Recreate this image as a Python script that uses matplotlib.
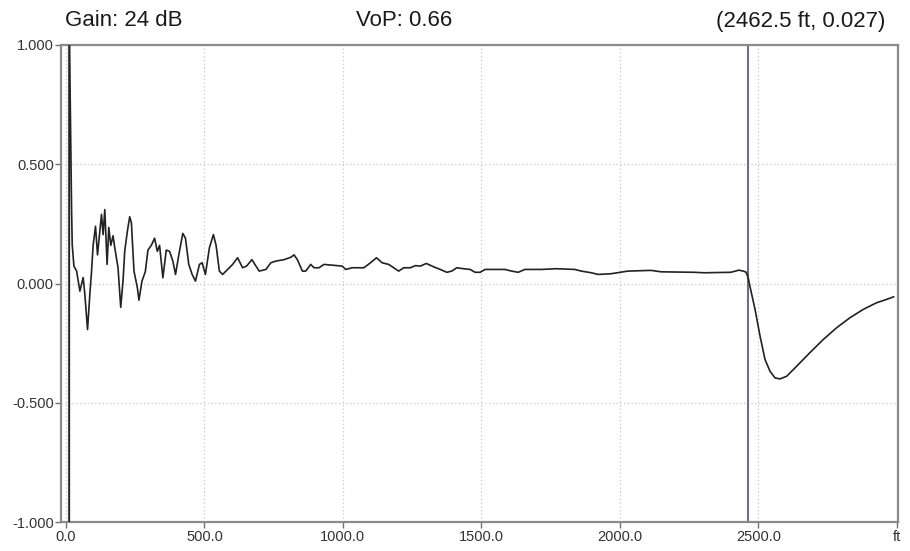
import matplotlib
matplotlib.use("Agg")
import matplotlib.pyplot as plt
import numpy as np

# ---- data (distance in ft, reflection coefficient) ----
dist_ft = [12, 12, 20.5, 22.7, 28.8, 38.5, 50.4, 62.2, 68.3, 78, 86.3, 92.4, 98.2, 106.8, 114,
           122.3, 128.4, 134.2, 140.3, 148.6, 154.7, 161.9, 170.1, 176.3, 188.1, 197.8, 206.1,
           212.2, 221.9, 230.2, 236.3, 245.7, 257.9, 263.7, 274.5, 286.7, 296, 308.3, 320.1,
           329.8, 338.1, 350, 362.2, 374.1, 386, 395.7, 407.5, 421.9, 431.6, 443.5, 455.7,
           467.6, 482, 491.7, 503.6, 518, 532.4, 542.1, 553.9, 565.8, 583.8, 601.8, 619.8,
           637.8, 652.1, 671.6, 686, 697.8, 721.9, 739.9, 757.9, 787.7, 811.8, 823.7, 835.6,
           853.6, 865.8, 883.8, 895.7, 913.6, 931.6, 997.5, 1009.7, 1033.4, 1075.5, 1099.6,
           1121.2, 1141.3, 1165.4, 1183.4, 1201.4, 1219.4, 1243.5, 1261.5, 1279.5, 1301.1,
           1327.3, 1351.4, 1375.1, 1393.1, 1411.1, 1435.2, 1459.3, 1477.3, 1495.3, 1513.3,
           1543.1, 1585.2, 1609, 1633, 1657.1, 1716.8, 1770.8, 1837, 1860.7, 1896.7, 1920.8,
           1968.6, 2028.7, 2112.5, 2148.5, 2268.6, 2304.6, 2400.3, 2430, 2445, 2455, 2462.5,
           2470, 2488, 2506, 2524, 2542, 2560, 2578, 2602, 2638, 2686, 2734, 2782, 2830, 2878,
           2926, 2962, 2988]
refl = [-1.1, 1.1, 0.303, 0.163, 0.073, 0.052, -0.032, 0.025, -0.046, -0.193, -0.046, 0.05, 0.16,
        0.24, 0.12, 0.22, 0.29, 0.205, 0.31, 0.08, 0.235, 0.16, 0.20, 0.15, 0.066, -0.10, 0.01,
        0.135, 0.22, 0.28, 0.255, 0.052, -0.018, -0.07, 0.01, 0.05, 0.14, 0.16, 0.19, 0.135,
        0.16, 0.024, 0.14, 0.135, 0.094, 0.038, 0.12, 0.21, 0.19, 0.08, 0.038, 0.01, 0.08,
        0.087, 0.038, 0.15, 0.205, 0.16, 0.052, 0.038, 0.059, 0.08, 0.108, 0.066, 0.073, 0.10,
        0.073, 0.052, 0.059, 0.087, 0.094, 0.10, 0.11, 0.12, 0.10, 0.052, 0.052, 0.08, 0.066,
        0.066, 0.08, 0.073, 0.059, 0.066, 0.066, 0.087, 0.108, 0.087, 0.08, 0.066, 0.052, 0.066,
        0.066, 0.075, 0.073, 0.084, 0.07, 0.059, 0.047, 0.052, 0.066, 0.062, 0.059, 0.047, 0.047,
        0.059, 0.059, 0.059, 0.052, 0.047, 0.059, 0.059, 0.062, 0.059, 0.052, 0.045, 0.038,
        0.041, 0.052, 0.055, 0.049, 0.047, 0.045, 0.047, 0.056, 0.052, 0.048, 0.027,
        -0.015, -0.109, -0.221, -0.319, -0.368, -0.396, -0.40, -0.389, -0.347, -0.29, -0.235,
        -0.186, -0.144, -0.109, -0.081, -0.067, -0.056]

cursor_ft = 2462.5
cursor_val = 0.027
gain_db = 24
vop = 0.66

x_ticks = [0, 500, 1000, 1500, 2000, 2500, 3000]
x_tick_labels = ["0.0", "500.0", "1000.0", "1500.0", "2000.0", "2500.0", "ft"]
y_ticks = [-1.0, -0.5, 0.0, 0.5, 1.0]
y_tick_labels = ["-1.000", "-0.500", "0.000", "0.500", "1.000"]

# ---- figure ----
plt.rcParams['font.family'] = ['Liberation Sans', 'DejaVu Sans']
fig = plt.figure(figsize=(9.10, 5.51), dpi=100)
ax = fig.add_axes([61.5 / 910, 1 - 522 / 551, (898 - 61.5) / 910, (522 - 45) / 551])

ax.set_xlim(-16, 3004)
ax.set_ylim(-1.0, 1.0)

ax.grid(True, color="#c8c8c8", linestyle=(0, (1, 2)), linewidth=0.9)
ax.set_axisbelow(True)

ax.axvline(dist_ft[0], color="#8a8a8a", linewidth=1.6, zorder=2)
ax.axvline(cursor_ft, color="#6e6e80", linewidth=1.5, zorder=2)
ax.plot(dist_ft, refl, color="#222222", linewidth=1.2, zorder=3)

ax.set_xticks(x_ticks)
ax.set_xticklabels(x_tick_labels)
ax.set_yticks(y_ticks)
ax.set_yticklabels(y_tick_labels)
ax.tick_params(axis="both", direction="out", length=4, width=1, color="#707070",
               labelsize=10.5, labelcolor="#333333", pad=1.5)

for s in ax.spines.values():
    s.set_color("#8a8a8a")
    s.set_linewidth(1.6)

title_kw = dict(va="center", fontsize=16, color="#1a1a1a")
fig.text(65 / 910, 1 - 21 / 551, f"Gain: {gain_db} dB", ha="left", **title_kw)
fig.text(404 / 910, 1 - 21 / 551, f"VoP: {vop:.2f}", ha="center", **title_kw)
fig.text(885 / 910, 1 - 21 / 551, f"({cursor_ft:.1f} ft, {cursor_val:.3f})", ha="right",
         **title_kw)

fig.savefig("out.png", dpi=100)
